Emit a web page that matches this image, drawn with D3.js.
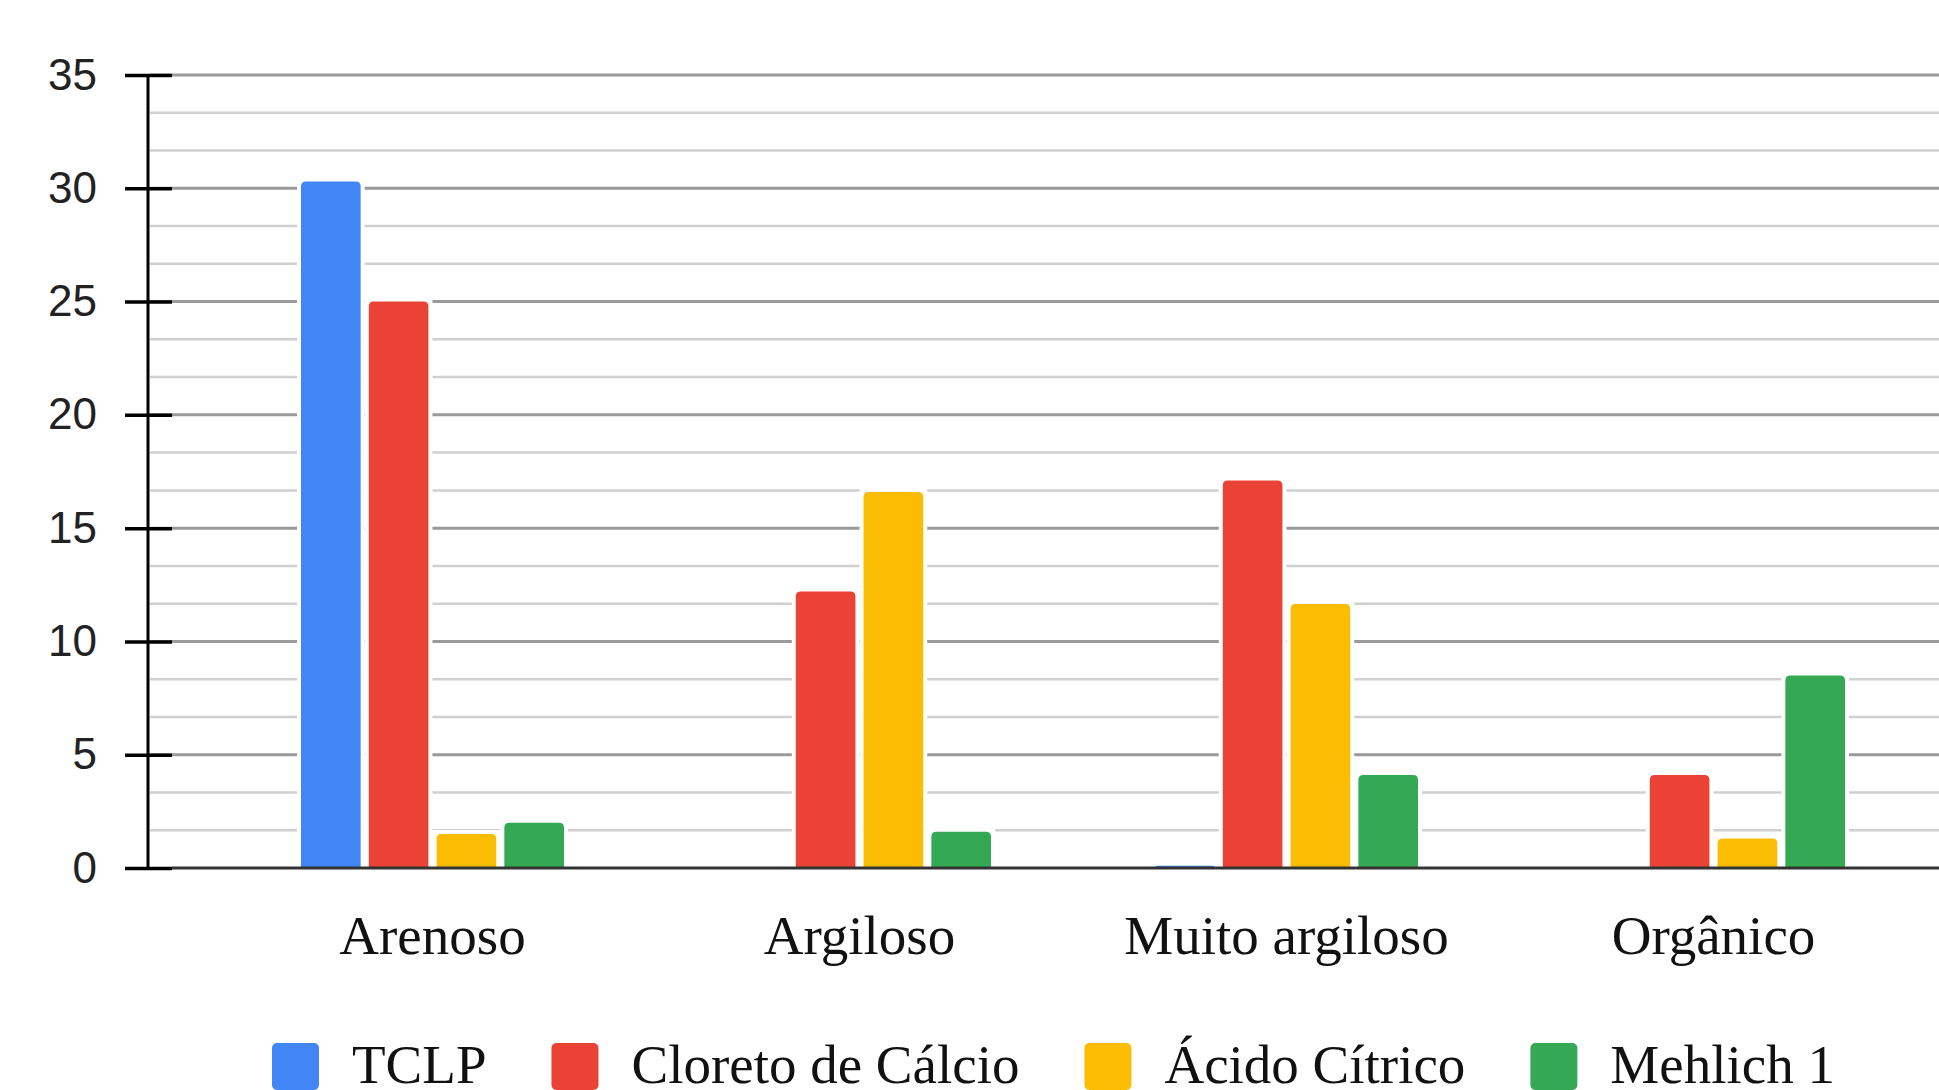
<!DOCTYPE html>
<html>
<head>
<meta charset="utf-8">
<script src="https://d3js.org/d3.v7.min.js"></script>
<style>
 body { margin: 0; background: #fff; }
</style>
</head>
<body>
<svg width="1939" height="1090"></svg>
<script>
 // data
 var categories = ["Arenoso", "Argiloso", "Muito argiloso", "Orgânico"];
 var series = ["TCLP", "Cloreto de Cálcio", "Ácido Cítrico", "Mehlich 1"];
 var tclp     = [30.3, 0,    0.1,  0];
 var cloreto  = [25.0, 12.2, 17.1, 4.1];
 var acido    = [1.5,  16.6, 11.65, 1.3];
 var mehlich  = [2.0,  1.6,  4.1,  8.5];
 var yTicks = [0, 5, 10, 15, 20, 25, 30, 35];
 var colors = ["#4285F4", "#EA4335", "#FBBC04", "#34A853"];

 var values = [tclp, cloreto, acido, mehlich];
 var rows = categories.map(function (c, i) {
     return { cat: c, vals: series.map(function (s, j) { return { s: s, j: j, v: values[j][i] }; }) };
 });

 var svg = d3.select("svg");

 var y = d3.scaleLinear().domain([0, 35]).range([868, 75]);
 var x0 = d3.scaleBand().domain(categories).range([219, 1927])
            .paddingInner(0.384).paddingOuter(0.192);
 var x1 = d3.scaleBand().domain(series).range([0, x0.bandwidth()]).paddingInner(0.12);

 // minor gridlines (3 per major step)
 var minor = d3.range(0, 35.001, 5 / 3).filter(function (v) { return Math.abs(v / 5 - Math.round(v / 5)) > 0.01; });
 svg.append("g").selectAll("line").data(minor).enter().append("line")
    .attr("x1", 150).attr("x2", 1939)
    .attr("y1", function (d) { return y(d); }).attr("y2", function (d) { return y(d); })
    .attr("stroke", "#d0d0d0").attr("stroke-width", 2.5);
 svg.append("g").selectAll("line").data(yTicks.filter(function (d) { return d > 0; })).enter().append("line")
    .attr("x1", 150).attr("x2", 1939)
    .attr("y1", function (d) { return y(d); }).attr("y2", function (d) { return y(d); })
    .attr("stroke", "#9a9a9a").attr("stroke-width", 3);

 // bars with rounded top corners and a white halo
 function topRounded(x, yy, w, h, r) {
     r = Math.min(r, h, w / 2);
     return "M" + x + "," + (yy + h) + " V" + (yy + r) + " Q" + x + "," + yy + " " + (x + r) + "," + yy +
            " H" + (x + w - r) + " Q" + (x + w) + "," + yy + " " + (x + w) + "," + (yy + r) +
            " V" + (yy + h) + " Z";
 }
 var groups = svg.append("g").selectAll("g").data(rows).enter().append("g")
    .attr("transform", function (d) { return "translate(" + x0(d.cat) + ",0)"; });
 groups.selectAll("rect.halo").data(function (d) { return d.vals.filter(function (b) { return b.v > 0; }); })
    .enter().append("rect").attr("class", "halo")
    .attr("x", function (d) { return x1(d.s) - 4; })
    .attr("y", function (d) { return y(d.v) - 4; })
    .attr("width", x1.bandwidth() + 8)
    .attr("height", function (d) { return y(0) - y(d.v) + 4; })
    .attr("fill", "#fff");
 groups.selectAll("path.bar").data(function (d) { return d.vals.filter(function (b) { return b.v > 0; }); })
    .enter().append("path").attr("class", "bar")
    .attr("d", function (d) { return topRounded(x1(d.s), y(d.v), x1.bandwidth(), y(0) - y(d.v), 5); })
    .attr("fill", function (d) { return colors[d.j]; });

 // baseline
 svg.append("line").attr("x1", 172).attr("x2", 1939).attr("y1", y(0)).attr("y2", y(0))
    .attr("stroke", "#333").attr("stroke-width", 3);

 // y axis
 svg.append("line").attr("x1", 148).attr("x2", 148).attr("y1", y(35)).attr("y2", y(0))
    .attr("stroke", "#000").attr("stroke-width", 3);
 var yAxis = svg.append("g").attr("transform", "translate(172,0)")
    .call(d3.axisLeft(y).tickValues(yTicks).tickSize(47).tickPadding(28));
 yAxis.select(".domain").remove();
 yAxis.selectAll(".tick line").attr("stroke", "#000").attr("stroke-width", 3.5);
 yAxis.selectAll(".tick text").attr("font-family", "'Liberation Sans', Arial, sans-serif")
    .attr("font-size", "44px").attr("fill", "#222");

 // category labels
 svg.append("g").selectAll("text").data(categories).enter().append("text")
    .attr("x", function (d) { return x0(d) + x0.bandwidth() / 2; })
    .attr("y", 954)
    .attr("text-anchor", "middle")
    .attr("font-family", "'Liberation Serif', 'Times New Roman', serif")
    .attr("font-size", "55px").attr("fill", "#111")
    .text(function (d) { return d; });

 // legend
 var legend = svg.append("g");
 var lx = 272;
 series.forEach(function (s, i) {
     legend.append("rect").attr("x", lx).attr("y", 1043).attr("width", 47).attr("height", 47)
        .attr("rx", 5).attr("fill", colors[i]);
     var t = legend.append("text").attr("x", lx + 80).attr("y", 1083)
        .attr("font-family", "'Liberation Serif', 'Times New Roman', serif")
        .attr("font-size", "55px").attr("fill", "#111").text(s);
     lx += 80 + t.node().getComputedTextLength() + 65;
 });
</script>
</body>
</html>
